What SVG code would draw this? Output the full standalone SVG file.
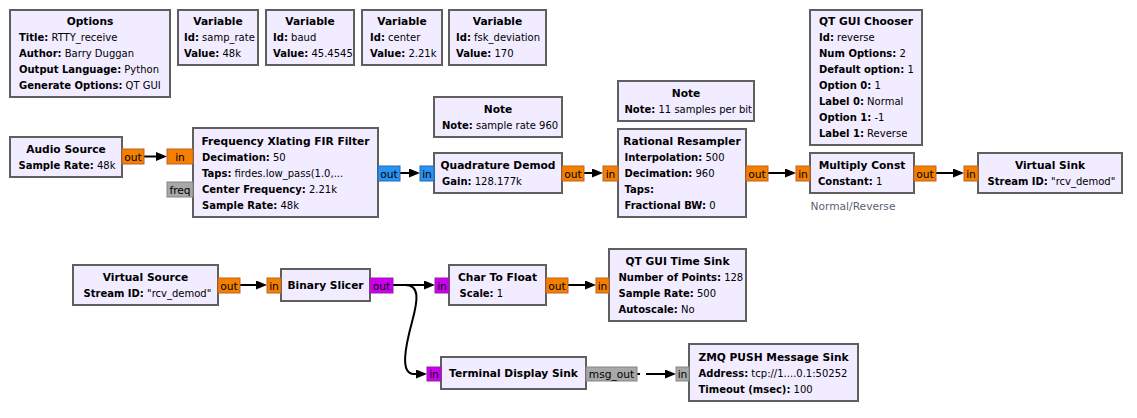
<svg xmlns="http://www.w3.org/2000/svg" width="1137" height="418" viewBox="0 0 1137 418">
<style>
text{font-family:"DejaVu Sans","Liberation Sans",sans-serif;font-size:10px;fill:#000}
.b{fill:#f1ecff;stroke:#5f5f5f;stroke-width:2}
.t{font-weight:bold;text-anchor:middle;font-size:10.67px}
.k{font-weight:bold}
.p{text-anchor:middle;font-size:10.67px}
.po{fill:#f38000;stroke:#c0602a;stroke-width:1}
.pc{fill:#2a93ef;stroke:#1d6cb8;stroke-width:1}
.pb{fill:#cc00ee;stroke:#9520a6;stroke-width:1}
.pm{fill:#a8a8a8;stroke:#858585;stroke-width:1}
.lbl{fill:#5a6270;font-size:10.67px}
.c{fill:none;stroke:#000;stroke-width:2;marker-end:url(#arr)}
</style>
<defs>
<marker id="arr" viewBox="0 0 11 9" refX="2" refY="4.5" markerWidth="11" markerHeight="9" markerUnits="userSpaceOnUse" orient="auto">
<path d="M0,0 L11,4.5 L0,9 z" fill="#000"/>
</marker>
</defs>
<rect width="1137" height="418" fill="#fff"/>

<g id="connectors">
<path class="c" d="M144,156.5 H158"/>
<path class="c" d="M400,173 H411"/>
<path class="c" d="M584,173 H594"/>
<path class="c" d="M768,173 H787"/>
<path class="c" d="M936,173 H955"/>
<path class="c" d="M240,285 H258"/>
<path class="c" d="M393,285 H426"/>
<path class="c" d="M568,285 H587"/>
<path class="c" d="M393,285 H405 C420,285 418,300 412,322 C405,348 400,374 414,374 H418"/>
<path class="c" d="M637,374 H667" stroke-dasharray="3,6,40"/>
</g>

<g id="options">
<rect class="b" x="10" y="10" width="160" height="87"/>
<text class="t" x="90" y="25">Options</text>
<text x="19" y="41"><tspan class="k">Title:</tspan> RTTY_receive</text>
<text x="19" y="57"><tspan class="k">Author:</tspan> Barry Duggan</text>
<text x="19" y="73"><tspan class="k">Output Language:</tspan> Python</text>
<text x="19" y="89"><tspan class="k">Generate Options:</tspan> QT GUI</text>
</g>

<g id="var_samp_rate">
<rect class="b" x="178" y="10" width="80" height="55"/>
<text class="t" x="218" y="25">Variable</text>
<text x="184" y="41"><tspan class="k">Id:</tspan> samp_rate</text>
<text x="184" y="57"><tspan class="k">Value:</tspan> 48k</text>
</g>

<g id="var_baud">
<rect class="b" x="266" y="10" width="88" height="55"/>
<text class="t" x="310" y="25">Variable</text>
<text x="273" y="41"><tspan class="k">Id:</tspan> baud</text>
<text x="273" y="57"><tspan class="k">Value:</tspan> 45.4545</text>
</g>

<g id="var_center">
<rect class="b" x="362" y="10" width="80" height="55"/>
<text class="t" x="402" y="25">Variable</text>
<text x="370" y="41"><tspan class="k">Id:</tspan> center</text>
<text x="370" y="57"><tspan class="k">Value:</tspan> 2.21k</text>
</g>

<g id="var_fsk_deviation">
<rect class="b" x="449" y="10" width="97" height="55"/>
<text class="t" x="497.5" y="25">Variable</text>
<text x="456" y="41"><tspan class="k">Id:</tspan> fsk_deviation</text>
<text x="456" y="57"><tspan class="k">Value:</tspan> 170</text>
</g>

<g id="note_sample_rate">
<rect class="b" x="434" y="97" width="128" height="40"/>
<text class="t" x="498" y="113">Note</text>
<text x="442" y="129"><tspan class="k">Note:</tspan> sample rate 960</text>
</g>

<g id="note_samples_per_bit">
<rect class="b" x="618" y="81" width="136" height="40"/>
<text class="t" x="686" y="97">Note</text>
<text x="624.5" y="113"><tspan class="k">Note:</tspan> 11 samples per bit</text>
</g>

<g id="qt_gui_chooser">
<rect class="b" x="810" y="10" width="112" height="135"/>
<text class="t" x="866" y="25">QT GUI Chooser</text>
<text x="819" y="41"><tspan class="k">Id:</tspan> reverse</text>
<text x="819" y="57"><tspan class="k">Num Options:</tspan> 2</text>
<text x="819" y="73"><tspan class="k">Default option:</tspan> 1</text>
<text x="819" y="89"><tspan class="k">Option 0:</tspan> 1</text>
<text x="819" y="105"><tspan class="k">Label 0:</tspan> Normal</text>
<text x="819" y="121"><tspan class="k">Option 1:</tspan> -1</text>
<text x="819" y="137"><tspan class="k">Label 1:</tspan> Reverse</text>
</g>

<g id="audio_source">
<rect class="b" x="10" y="137" width="112" height="40"/>
<text class="t" x="66" y="153">Audio Source</text>
<text x="18.5" y="169"><tspan class="k">Sample Rate:</tspan> 48k</text>
<rect class="po" x="122" y="149" width="22" height="15"/>
<text class="p" x="133" y="160.5">out</text>
</g>

<g id="freq_xlating_fir_filter">
<rect class="b" x="193" y="128" width="185" height="89"/>
<text class="t" x="285.5" y="145">Frequency Xlating FIR Filter</text>
<text x="202" y="161"><tspan class="k">Decimation:</tspan> 50</text>
<text x="202" y="177"><tspan class="k">Taps:</tspan> firdes.low_pass(1.0,...</text>
<text x="202" y="193"><tspan class="k">Center Frequency:</tspan> 2.21k</text>
<text x="202" y="209"><tspan class="k">Sample Rate:</tspan> 48k</text>
<rect class="po" x="167" y="149" width="26" height="15"/>
<text class="p" x="180" y="160.5">in</text>
<rect class="pm" x="167" y="182" width="26" height="15"/>
<text class="p" x="180" y="193.5">freq</text>
<rect class="pc" x="378" y="166" width="22" height="15"/>
<text class="p" x="389" y="177.5">out</text>
</g>

<g id="quadrature_demod">
<rect class="b" x="434" y="153" width="128" height="40"/>
<text class="t" x="498" y="169">Quadrature Demod</text>
<text x="442" y="185"><tspan class="k">Gain:</tspan> 128.177k</text>
<rect class="pc" x="420" y="166" width="14" height="15"/>
<text class="p" x="427" y="177.5">in</text>
<rect class="po" x="562" y="166" width="22" height="15"/>
<text class="p" x="573" y="177.5">out</text>
</g>

<g id="rational_resampler">
<rect class="b" x="618" y="129" width="128" height="88"/>
<text class="t" x="682" y="145">Rational Resampler</text>
<text x="624.5" y="161"><tspan class="k">Interpolation:</tspan> 500</text>
<text x="624.5" y="177"><tspan class="k">Decimation:</tspan> 960</text>
<text x="624.5" y="193"><tspan class="k">Taps:</tspan></text>
<text x="624.5" y="209"><tspan class="k">Fractional BW:</tspan> 0</text>
<rect class="po" x="603" y="166" width="15" height="15"/>
<text class="p" x="610.5" y="177.5">in</text>
<rect class="po" x="746" y="166" width="22" height="15"/>
<text class="p" x="757" y="177.5">out</text>
</g>

<g id="multiply_const">
<rect class="b" x="810" y="153" width="104" height="40"/>
<text class="t" x="862" y="169">Multiply Const</text>
<text x="818" y="185"><tspan class="k">Constant:</tspan> 1</text>
<rect class="po" x="796" y="166" width="14" height="15"/>
<text class="p" x="803" y="177.5">in</text>
<rect class="po" x="914" y="166" width="22" height="15"/>
<text class="p" x="925" y="177.5">out</text>
<text class="lbl" x="810.5" y="210">Normal/Reverse</text>
</g>

<g id="virtual_sink">
<rect class="b" x="978" y="153" width="144" height="40"/>
<text class="t" x="1050" y="169">Virtual Sink</text>
<text x="987.5" y="185"><tspan class="k">Stream ID:</tspan> "rcv_demod"</text>
<rect class="po" x="964" y="166" width="14" height="15"/>
<text class="p" x="971" y="177.5">in</text>
</g>

<g id="virtual_source">
<rect class="b" x="73" y="265" width="145" height="40"/>
<text class="t" x="145.5" y="281">Virtual Source</text>
<text x="83.5" y="297"><tspan class="k">Stream ID:</tspan> "rcv_demod"</text>
<rect class="po" x="218" y="278" width="22" height="15"/>
<text class="p" x="229" y="289.5">out</text>
</g>

<g id="binary_slicer">
<rect class="b" x="281" y="269" width="89" height="32"/>
<text class="t" x="325.5" y="289">Binary Slicer</text>
<rect class="po" x="267" y="278" width="14" height="15"/>
<text class="p" x="274" y="289.5">in</text>
<rect class="pb" x="370" y="278" width="23" height="15"/>
<text class="p" x="381.5" y="289.5">out</text>
</g>

<g id="char_to_float">
<rect class="b" x="449" y="265" width="97" height="40"/>
<text class="t" x="497.5" y="281">Char To Float</text>
<text x="459.5" y="297"><tspan class="k">Scale:</tspan> 1</text>
<rect class="pb" x="435" y="278" width="14" height="15"/>
<text class="p" x="442" y="289.5">in</text>
<rect class="po" x="546" y="278" width="22" height="15"/>
<text class="p" x="557" y="289.5">out</text>
</g>

<g id="qt_gui_time_sink">
<rect class="b" x="609" y="249" width="137" height="72"/>
<text class="t" x="677.5" y="265">QT GUI Time Sink</text>
<text x="618.5" y="281"><tspan class="k">Number of Points:</tspan> 128</text>
<text x="618.5" y="297"><tspan class="k">Sample Rate:</tspan> 500</text>
<text x="618.5" y="313"><tspan class="k">Autoscale:</tspan> No</text>
<rect class="po" x="596" y="278" width="13" height="15"/>
<text class="p" x="602.5" y="289.5">in</text>
</g>

<g id="terminal_display_sink">
<rect class="b" x="441" y="357" width="145" height="32"/>
<text class="t" x="513.5" y="377">Terminal Display Sink</text>
<rect class="pb" x="427" y="367" width="14" height="14"/>
<text class="p" x="434" y="378">in</text>
<rect class="pm" x="586" y="367" width="51" height="14"/>
<text class="p" x="611.5" y="378">msg_out</text>
</g>

<g id="zmq_push_msg_sink">
<rect class="b" x="689" y="344" width="169" height="57"/>
<text class="t" x="773.5" y="361">ZMQ PUSH Message Sink</text>
<text x="698.5" y="377"><tspan class="k">Address:</tspan> tcp://1....0.1:50252</text>
<text x="698.5" y="393"><tspan class="k">Timeout (msec):</tspan> 100</text>
<rect class="pm" x="676" y="367" width="13" height="14"/>
<text class="p" x="682.5" y="378">in</text>
</g>
</svg>
